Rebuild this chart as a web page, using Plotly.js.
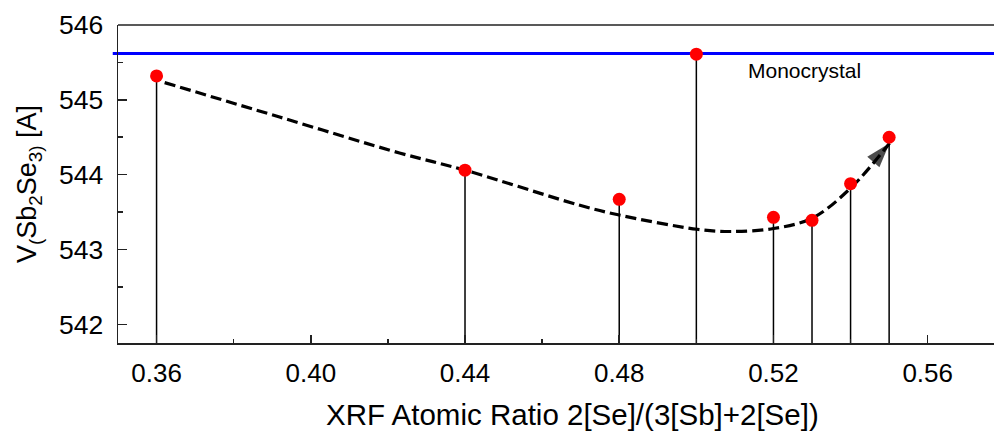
<!DOCTYPE html>
<html>
<head>
<meta charset="utf-8">
<script src="https://cdn.plot.ly/plotly-3.0.1.min.js"></script>
<style>html,body{margin:0;padding:0;background:#fff;}#chart{width:994px;height:432px;}</style>
</head>
<body>
<div id="chart"></div>
<script>
// Measured data points
const ratio = [0.36, 0.44, 0.48, 0.50, 0.52, 0.53, 0.54, 0.55];
const volume = [545.32, 544.06, 543.67, 545.61, 543.43, 543.39, 543.88, 544.50];
// Guide curve (dashed trend with arrow)
const trendX = [0.3621, 0.3919, 0.4230, 0.4400, 0.4698, 0.4800, 0.5002, 0.5088, 0.5200, 0.5301, 0.5402, 0.5501];
const trendY = [545.23, 544.77, 544.29, 544.06, 543.59, 543.46, 543.27, 543.24, 543.28, 543.42, 543.83, 544.42];
// Monocrystal reference
const monoValue = 545.62;
const monoLabel = 'Monocrystal';
const xTitle = 'XRF Atomic Ratio 2[Se]/(3[Sb]+2[Se])';
const yTitle = 'V<sub>(</sub>Sb<sub>2</sub>Se<sub>3</sub><sub>)</sub> [A]';
const xTickVals = [0.36, 0.40, 0.44, 0.48, 0.52, 0.56];
const yTickVals = [542, 543, 544, 545, 546];
const yMin = 541.75, yMax = 546.0;
const xMin = 0.35, xMax = 0.5772;

const FONT = 'Liberation Sans, Arial, sans-serif';

const stems = {
  x: ratio, y: volume, type: 'scatter', mode: 'markers',
  marker: {color: 'rgba(0,0,0,0)', size: 1},
  error_y: {type: 'data', symmetric: false, array: ratio.map(() => 0),
            arrayminus: volume.map(v => v - (yMin - 1)), width: 0, thickness: 1.5, color: '#000'},
  hoverinfo: 'skip', showlegend: false
};
const trend = {
  x: trendX, y: trendY, type: 'scatter', mode: 'lines+markers',
  line: {color: '#000', width: 3.2, dash: '11px,5px', shape: 'spline'},
  marker: {symbol: 'arrow', angleref: 'previous', color: '#000',
           size: trendX.map((v, i) => i === trendX.length - 1 ? 26 : 0), line: {width: 0}},
  showlegend: false
};
const points = {
  x: ratio, y: volume, type: 'scatter', mode: 'markers',
  marker: {color: '#ff0000', size: 13}, showlegend: false
};

const layout = {
  width: 994, height: 432,
  margin: {l: 118, r: 0, t: 25, b: 89, pad: 0},
  paper_bgcolor: '#fff', plot_bgcolor: '#fff',
  font: {family: FONT, color: '#000'},
  showlegend: false,
  xaxis: {
    range: [xMin, xMax], tickvals: xTickVals, ticktext: xTickVals.map(v => v.toFixed(2)),
    ticks: 'inside', ticklen: 8, tickwidth: 1.5, tickcolor: '#222',
    showline: true, linecolor: '#222', linewidth: 1.5, mirror: false,
    showgrid: false, zeroline: false,
    tickfont: {size: 26, family: FONT}, ticklabelstandoff: 6,
    minor: {ticks: 'inside', ticklen: 4, tickwidth: 1.5, tickcolor: '#222', dtick: 0.02, tick0: 0.36, showgrid: false}
  },
  yaxis: {
    range: [yMin, yMax], tickvals: yTickVals,
    ticks: 'inside', ticklen: 9, tickwidth: 1.5, tickcolor: '#222',
    showline: true, linecolor: '#222', linewidth: 1.5,
    showgrid: false, zeroline: false,
    tickfont: {size: 26.5, family: FONT}, ticklabelstandoff: 8,
    minor: {ticks: 'inside', ticklen: 5, tickwidth: 1.5, tickcolor: '#222', dtick: 0.5, tick0: 542, showgrid: false},
    title: {text: yTitle, font: {size: 27, family: FONT}, standoff: 14}
  },
  shapes: [
    {type: 'line', xref: 'paper', yref: 'y', x0: -0.006, x1: 1, y0: monoValue, y1: monoValue,
     line: {color: '#0000ff', width: 3}, layer: 'below'},
    {type: 'line', xref: 'paper', yref: 'paper', x0: 0, x1: 1, y0: 1, y1: 1,
     line: {color: '#222', width: 1.5}}
  ],
  annotations: [
    {x: 0.5281, y: monoValue, xref: 'x', yref: 'y', yshift: -17, text: monoLabel, showarrow: false,
     font: {size: 21, family: FONT, color: '#000'}},
    {x: 0.519, y: -0.225, xref: 'paper', yref: 'paper', xanchor: 'center', yanchor: 'middle',
     text: xTitle, showarrow: false, font: {size: 29.5, family: FONT, color: '#000'}}
  ]
};

Plotly.newPlot('chart', [stems, trend, points], layout, {displayModeBar: false, staticPlot: true});
</script>
</body>
</html>
